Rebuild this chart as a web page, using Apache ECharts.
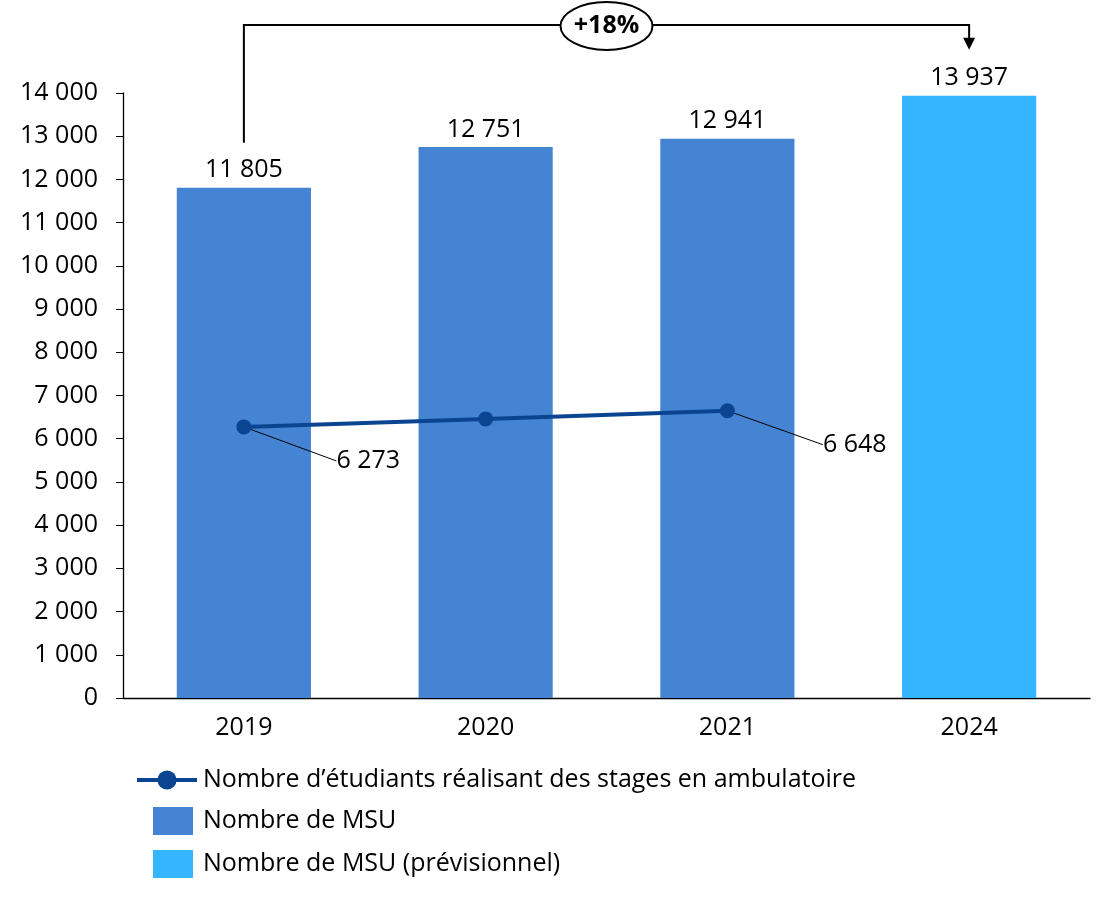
<!DOCTYPE html>
<html><head><meta charset="utf-8">
<script src="https://cdn.jsdelivr.net/npm/echarts@6/dist/echarts.min.js"></script>
<style>html,body{margin:0;padding:0;background:#fff}#c{width:1104px;height:899px}</style>
</head><body><div id="c"></div>
<script>
const categories = ['2019', '2020', '2021', '2024'];
const msu = [11805, 12751, 12941, null];
const msuForecast = [null, null, null, 13937];
const students = [6273, 6458, 6648, null];
const yTicks = [0, 14000, 1000];
const growthLabel = '+18%';
const names = ['Nombre d\u2019étudiants réalisant des stages en ambulatoire', 'Nombre de MSU', 'Nombre de MSU (prévisionnel)'];

const FONT = 'Open Sans';
const FS = 25;
const fmt = v => String(v).replace(/\B(?=(\d{3})+(?!\d))/g, ' ');
const chart = echarts.init(document.getElementById('c'));
const option = {
  animation: false,
  textStyle: { fontFamily: FONT },
  grid: { left: 123, right: 14, top: 93, bottom: 201 },
  legend: [
    { data: [{ name: names[0] }], orient: 'vertical', left: 130, top: 761, itemWidth: 60, itemHeight: 24, itemGap: 8,
      lineStyle: { width: 4 },
      textStyle: { fontSize: FS, color: '#000', fontFamily: FONT, lineHeight: 28, padding: [0, 0, 0, 1] } },
    { data: [{ name: names[1], icon: 'rect' }, { name: names[2], icon: 'rect' }], orient: 'vertical', left: 148, top: 802,
      itemWidth: 40, itemHeight: 28, itemGap: 15,
      textStyle: { fontSize: FS, color: '#000', fontFamily: FONT, lineHeight: 28, padding: [0, 0, 0, 5] } }
  ],
  xAxis: {
    type: 'category', data: categories,
    axisLine: { lineStyle: { color: '#000', width: 1.3 } },
    axisTick: { show: false },
    axisLabel: { fontSize: FS, color: '#000', margin: 17, fontFamily: FONT }
  },
  yAxis: {
    type: 'value', min: yTicks[0], max: yTicks[1], interval: yTicks[2],
    axisLine: { show: true, lineStyle: { color: '#000', width: 1.3 } },
    axisTick: { show: true, length: 7, lineStyle: { color: '#000' } },
    splitLine: { show: false },
    axisLabel: { fontSize: FS, color: '#000', margin: 25, formatter: fmt, fontFamily: FONT }
  },
  series: [
    { name: names[1], type: 'bar', stack: 'm', data: msu, barWidth: '55.5%',
      itemStyle: { color: '#4584D3' },
      label: { show: true, position: 'top', distance: 5, fontSize: FS, color: '#000', formatter: p => fmt(p.value), fontFamily: FONT } },
    { name: names[2], type: 'bar', stack: 'm', data: msuForecast, barWidth: '55.5%',
      itemStyle: { color: '#33B5FF' },
      label: { show: true, position: 'top', distance: 5, fontSize: FS, color: '#000', formatter: p => fmt(p.value), fontFamily: FONT } },
    { name: names[0], type: 'line', data: students.map((v, i) => ({
        value: v,
        label: (i === 0 || i === 2) ? { show: true, position: 'right', offset: [i === 0 ? 80 : 83, 34] } : { show: false }
      })),
      symbol: 'circle', symbolSize: 15, z: 5,
      lineStyle: { color: '#0B4591', width: 4 },
      itemStyle: { color: '#0B4591' },
      label: { fontSize: FS, color: '#000', formatter: p => fmt(p.value), fontFamily: FONT },
      labelLine: { show: true, lineStyle: { color: '#000', width: 1 } }
    }
  ]
};
chart.setOption(option);

function drawBracket() {
  const p0 = chart.convertToPixel({ seriesIndex: 0 }, [0, msu[0]]);
  const p3 = chart.convertToPixel({ seriesIndex: 1 }, [3, msuForecast[3]]);
  const x0 = p0[0], x3 = p3[0];
  const yTop = 25;
  const y0 = p0[1] - 45;
  const yArrow = p3[1] - 46;
  const cx = (x0 + x3) / 2;
  chart.setOption({
    graphic: [
      { type: 'polyline', shape: { points: [[x0, y0], [x0, yTop], [x3, yTop], [x3, yArrow - 10]] },
        style: { stroke: '#000', lineWidth: 2, fill: null }, z: 10 },
      { type: 'polygon', shape: { points: [[x3 - 6, yArrow - 12], [x3 + 6, yArrow - 12], [x3, yArrow]] },
        style: { fill: '#000' }, z: 10 },
      { type: 'ellipse', shape: { cx: cx, cy: yTop + 1, rx: 46, ry: 24 },
        style: { fill: '#fff', stroke: '#000', lineWidth: 2 }, z: 11 },
      { type: 'text', x: cx, y: yTop + 1, z: 12,
        style: { text: growthLabel, fontSize: FS, fontWeight: 'bold', fontFamily: FONT, fill: '#000', align: 'center', verticalAlign: 'middle' } }
    ]
  });
}
drawBracket();
</script>
</body></html>
